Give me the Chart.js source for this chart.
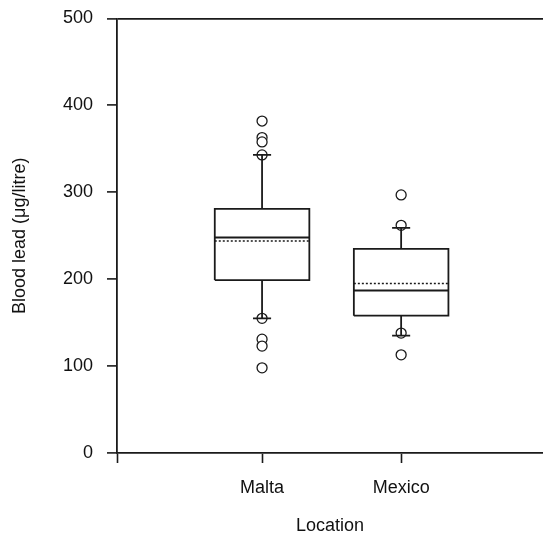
<!DOCTYPE html>
<html>
<head>
<meta charset="utf-8">
<script src="https://cdn.jsdelivr.net/npm/chart.js@4/dist/chart.umd.min.js"></script>
<style>
  html, body { margin: 0; padding: 0; background: #fff; }
  #wrap { width: 543px; height: 537px; }
</style>
</head>
<body>
<div id="wrap"><canvas id="c" width="543" height="537"></canvas></div>
<script>
// ---- data ----
const categories   = ['Malta', 'Mexico'];
const q1           = [199, 158];
const median       = [248, 187];
const q3           = [281, 235];
const mean         = [244, 195];
const whiskerLow   = [155, 135];
const whiskerHigh  = [343, 259];
const outliersMalta  = [382, 363, 358, 343, 155, 131, 123, 98];
const outliersMexico = [297, 262, 138, 113];
const yTicks = [0, 100, 200, 300, 400, 500];

// ---- geometry helpers (in data units on the x scale) ----
const BOX_HALF = 0.34;
const CAP_HALF = 0.065;
const INK = '#1a1a1a';

const boxPts = [], whiskPts = [], medPts = [], meanPts = [];
categories.forEach((c, i) => {
  const x = i + 1;
  boxPts.push({x: x - BOX_HALF, y: q1[i]}, {x: x - BOX_HALF, y: q3[i]},
              {x: x + BOX_HALF, y: q3[i]}, {x: x + BOX_HALF, y: q1[i]},
              {x: x - BOX_HALF, y: q1[i]}, {x: NaN, y: null});
  whiskPts.push({x: x, y: q3[i]}, {x: x, y: whiskerHigh[i]}, {x: NaN, y: null},
                {x: x - CAP_HALF, y: whiskerHigh[i]}, {x: x + CAP_HALF, y: whiskerHigh[i]}, {x: NaN, y: null},
                {x: x, y: q1[i]}, {x: x, y: whiskerLow[i]}, {x: NaN, y: null},
                {x: x - CAP_HALF, y: whiskerLow[i]}, {x: x + CAP_HALF, y: whiskerLow[i]}, {x: NaN, y: null});
  medPts.push({x: x - BOX_HALF, y: median[i]}, {x: x + BOX_HALF, y: median[i]}, {x: NaN, y: null});
  meanPts.push({x: x - BOX_HALF, y: mean[i]}, {x: x + BOX_HALF, y: mean[i]}, {x: NaN, y: null});
});
const outPts = [];
outliersMalta.forEach(v => outPts.push({x: 1, y: v}));
outliersMexico.forEach(v => outPts.push({x: 2, y: v}));

const lineDs = (data, extra) => Object.assign({
  type: 'scatter', data, showLine: true, spanGaps: false,
  borderColor: INK, borderWidth: 1.8, pointRadius: 0, fill: false
}, extra || {});

const FONT = { family: '"Liberation Sans", Arial, sans-serif', size: 18 };

new Chart(document.getElementById('c'), {
  type: 'scatter',
  data: {
    datasets: [
      lineDs(boxPts),
      lineDs(whiskPts),
      lineDs(medPts),
      lineDs(meanPts, { borderDash: [2, 2], borderWidth: 1.5 }),
      { type: 'scatter', data: outPts, pointRadius: 5, pointBorderWidth: 1.3,
        pointBorderColor: INK, pointBackgroundColor: '#fff', showLine: false }
    ]
  },
  options: {
    responsive: false,
    animation: false,
    events: [],
    layout: { autoPadding: false, padding: { top: 18.5, right: 0, left: 0, bottom: 0 } },
    plugins: { legend: { display: false }, tooltip: { enabled: false } },
    scales: {
      x: {
        type: 'linear',
        min: -0.043, max: 3.02,
        afterBuildTicks: s => { s.ticks = [{value: s.min}, {value: 1}, {value: 2}]; },
        afterFit: s => { s.height = 84; s.paddingRight = 0; s.paddingLeft = 0; },
        ticks: {
          color: '#111', font: FONT, padding: 14, maxRotation: 0, autoSkip: false,
          callback: v => (categories[Math.round(v) - 1] !== undefined && Math.abs(v - Math.round(v)) < 1e-6) ? categories[Math.round(v) - 1] : ''
        },
        grid: { display: true, drawOnChartArea: false, drawTicks: true, tickLength: 10, tickColor: INK, tickWidth: 1.6 },
        border: { display: true, color: INK, width: 1.8 },
        title: { display: true, text: 'Location', color: '#111', font: FONT, padding: { top: 0, bottom: 0 } }
      },
      y: {
        type: 'linear',
        min: 0, max: 500,
        afterBuildTicks: s => { s.ticks = yTicks.map(v => ({value: v})); },
        afterFit: s => { s.width = 117; s.paddingTop = 0; s.paddingBottom = 0; },
        ticks: { color: '#111', font: FONT, padding: 14 },
        grid: {
          display: true, drawOnChartArea: true, drawTicks: true, tickLength: 10,
          tickColor: INK, tickWidth: 1.6,
          color: ctx => (ctx.tick && ctx.tick.value === 500) ? INK : 'rgba(0,0,0,0)',
          lineWidth: 1.8
        },
        border: { display: true, color: INK, width: 1.8 },
        title: { display: true, text: 'Blood lead (μg/litre)', color: '#111', font: FONT, padding: { top: 9, bottom: 0 } }
      }
    }
  }
});
</script>
</body>
</html>
